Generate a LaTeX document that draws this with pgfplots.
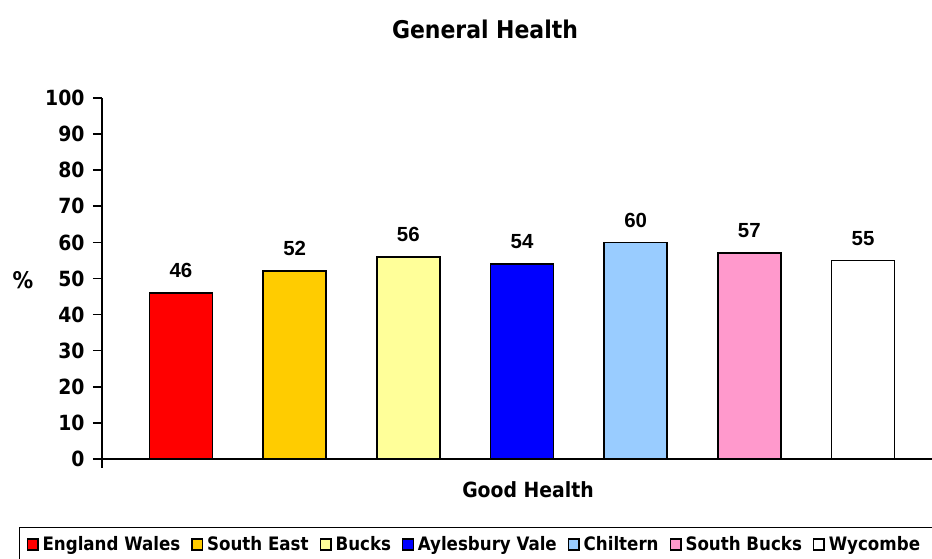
\documentclass[border=0pt]{standalone}
\usepackage{pgfplots}
\pgfplotsset{compat=1.18}
\usepackage{fontspec}
\setmainfont{Liberation Sans}
\newfontfamily\tah{DejaVu Sans Condensed}

\definecolor{cEW}{HTML}{FF0000}
\definecolor{cSE}{HTML}{FFCC00}
\definecolor{cBU}{HTML}{FFFF99}
\definecolor{cAV}{HTML}{0000FF}
\definecolor{cCH}{HTML}{99CCFF}
\definecolor{cSB}{HTML}{FF99CC}
\definecolor{cWY}{HTML}{FFFFFF}

\begin{document}
\begin{tikzpicture}
\useasboundingbox (0,0) rectangle (932bp,559bp);
\clip (0,0) rectangle (932bp,559bp);

\begin{axis}[
  at={(102bp,100bp)}, anchor=south west,
  scale only axis, width=830bp, height=361bp,
  xmin=-0.695, xmax=6.607, ymin=0, ymax=100,
  axis x line=bottom, axis y line=left,
  axis line style={line width=1.8bp, -},
  ytick={0,10,...,100},
  xtick={-0.695}, xticklabels={},
  tick style={line width=1.6bp, black},
  major tick length=9bp, tick align=outside,
  /pgf/number format/assume math mode=true,
  yticklabel style={font=\tah\bfseries\fontsize{21}{21}\selectfont, xshift=-5bp},
  ybar, bar width=63bp, bar shift=0pt,
  every axis plot/.append style={draw=black, line width=1.6bp},
  nodes near coords,
  nodes near coords style={font=\bfseries\fontsize{20.5}{20.5}\selectfont, black, anchor=south, yshift=11bp},
  legend image code/.code={\draw[#1, line width=1.4bp] (0bp,-5.5bp) rectangle (10.5bp,5.5bp);},
  legend columns=-1,
  legend style={at={(rel axis cs:-0.100,-0.188)}, anchor=north west,
    draw=black, line width=1.3bp,
    font=\tah\bfseries\fontsize{18.6}{18.6}\selectfont,
    inner xsep=7bp, inner ysep=6bp,
    nodes={inner xsep=0.5bp, inner ysep=3bp},
    /tikz/every odd column/.style={column sep=3.5bp},
    /tikz/every even column/.style={column sep=10.5bp}},
]
\addplot[fill=cEW] coordinates {(0,46)};
\addplot[fill=cSE] coordinates {(1,52)};
\addplot[fill=cBU] coordinates {(2,56)};
\addplot[fill=cAV] coordinates {(3,54)};
\addplot[fill=cCH] coordinates {(4,60)};
\addplot[fill=cSB] coordinates {(5,57)};
\addplot[fill=cWY] coordinates {(6,55)};
\legend{England Wales, South East, Bucks, Aylesbury Vale, Chiltern, South Bucks, Wycombe\rule{16bp}{0pt}}
\end{axis}

\node[font=\tah\bfseries\fontsize{24.5}{24.5}\selectfont] at (485bp,530bp) {General Health};
\node[font=\tah\bfseries\fontsize{23}{23}\selectfont] at (23bp,279bp) {\%};
\node[font=\tah\bfseries\fontsize{21}{21}\selectfont] at (528bp,69bp) {Good Health};
\end{tikzpicture}
\end{document}
